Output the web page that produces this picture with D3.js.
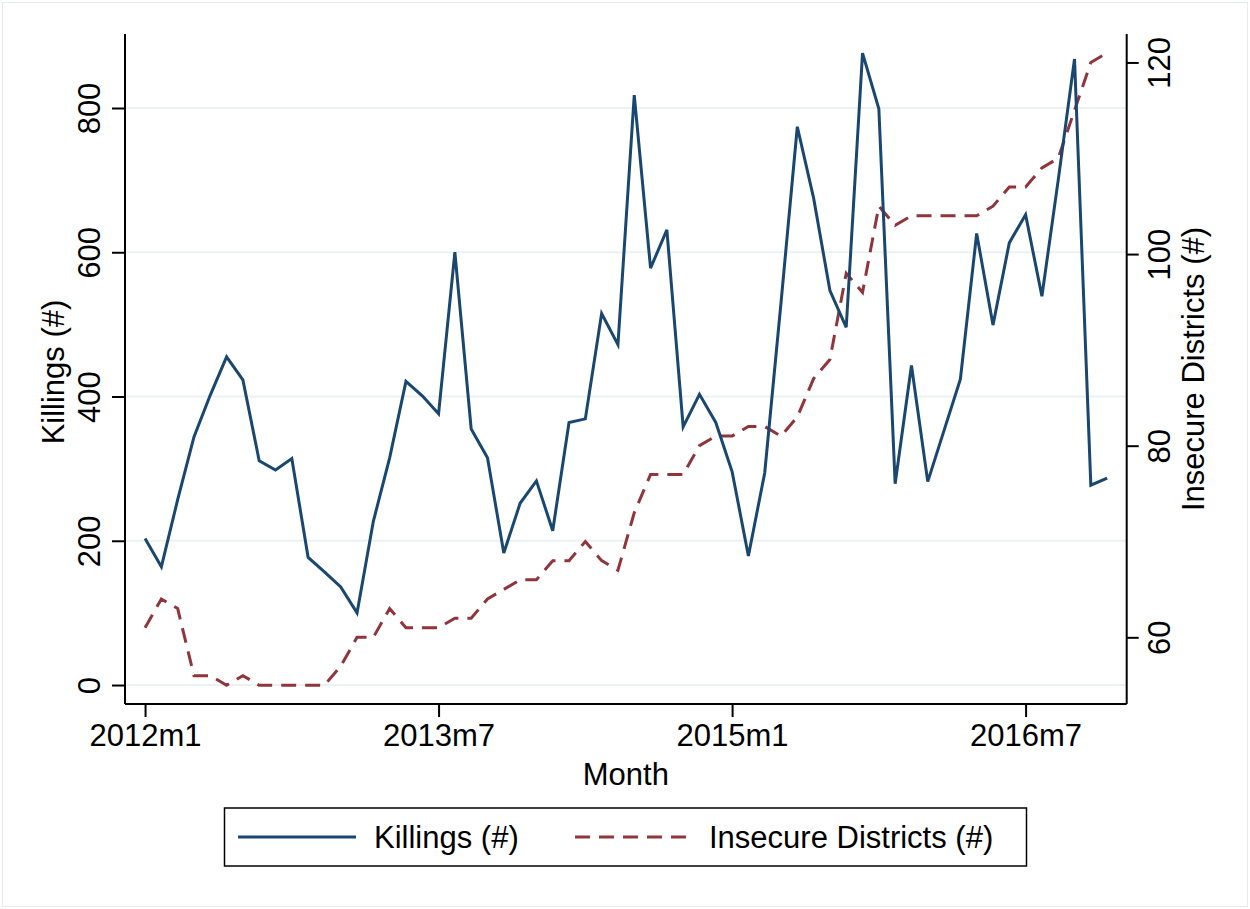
<!DOCTYPE html>
<html>
<head>
<meta charset="utf-8">
<script src="https://cdn.jsdelivr.net/npm/d3@7"></script>
<style>
  html, body { margin: 0; padding: 0; background: #fff; }
  svg { display: block; }
  text { font-family: "Liberation Sans", Arial, Helvetica, sans-serif; fill: #000; }
</style>
</head>
<body>
<svg id="chart" width="1250" height="909"></svg>
<script>
// ---- data (monthly, 2012m1 .. 2016m12) ----
const startYear = 2012;
const killings = [203,164,257,344,402,455,423,311,298,314,
                  177,157,136,100,227,315,421,401,376,600,
                  355,315,183,252,283,214,364,369,515,472,
                  818,578,631,358,403,364,296,179,294,530,
                  774,675,547,496,876,799,279,443,282,353,
                  424,626,499,613,652,539,700,868,277,287];
const insecure = [61,64,63,56,56,55,56,55,55,55,
                  55,55,57,60,60,63,61,61,61,62,
                  62,64,65,66,66,68,68,70,68,67,
                  73,77,77,77,80,81,81,82,82,81,
                  83,87,89,98,96,105,103,104,104,104,
                  104,104,105,107,107,109,110,115,120,121];
const xTicks = [0, 18, 36, 54];
const leftTicks = [0, 200, 400, 600, 800];
const rightTicks = [60, 80, 100, 120];
const seriesNames = ["Killings (#)", "Insecure Districts (#)"];
const xTitle = "Month";
const leftTitle = "Killings (#)";
const rightTitle = "Insecure Districts (#)";

// ---- layout ----
const svg = d3.select("#chart");
const L = 125, R = 1126.7, T = 34, B = 704;
const navy = "#1a476f", maroon = "#90353b", grid = "#eaf2f3";
const FS = 31;

svg.append("rect").attr("x", 2.5).attr("y", 2.5).attr("width", 1245).attr("height", 904)
  .attr("fill", "#fff").attr("stroke", "#e4ecef").attr("stroke-width", 1);

const x = d3.scaleLinear().domain([-1.23, 60.2]).range([L, R]);
const yL = d3.scaleLinear().domain([-26.3, 902.6]).range([B, T]);
const yR = d3.scaleLinear().domain([53.04, 122.97]).range([B, T]);

// gridlines
svg.append("g").selectAll("line").data(leftTicks).join("line")
  .attr("x1", L).attr("x2", R).attr("y1", d => yL(d)).attr("y2", d => yL(d))
  .attr("stroke", grid).attr("stroke-width", 2);

// series
const lineK = d3.line().x((d, i) => x(i)).y(d => yL(d));
const lineI = d3.line().x((d, i) => x(i)).y(d => yR(d));
svg.append("path").datum(insecure).attr("d", lineI).attr("fill", "none")
  .attr("stroke", maroon).attr("stroke-width", 3).attr("stroke-dasharray", "15,9");
svg.append("path").datum(killings).attr("d", lineK).attr("fill", "none")
  .attr("stroke", navy).attr("stroke-width", 3);

// axes
const fmtMonth = i => (startYear + Math.floor(i / 12)) + "m" + (i % 12 + 1);
const axB = svg.append("g").attr("transform", `translate(0,${B})`)
  .call(d3.axisBottom(x).tickValues(xTicks).tickFormat(fmtMonth).tickSize(13).tickPadding(7));
const axL = svg.append("g").attr("transform", `translate(${L},0)`)
  .call(d3.axisLeft(yL).tickValues(leftTicks).tickSize(13).tickPadding(0));
const axR = svg.append("g").attr("transform", `translate(${R},0)`)
  .call(d3.axisRight(yR).tickValues(rightTicks).tickSize(12).tickPadding(0));

[axB, axL, axR].forEach(g => {
  g.select(".domain").attr("stroke", "#000").attr("stroke-width", 2);
  g.selectAll(".tick line").attr("stroke", "#000").attr("stroke-width", 2);
  g.selectAll(".tick text").attr("font-size", FS).attr("font-family", "Liberation Sans, Arial, sans-serif").attr("fill", "#000");
});
axB.select(".domain").attr("d", `M${L},0H${R}`);
axL.select(".domain").attr("d", `M0,${T}V${B}`);
axR.select(".domain").attr("d", `M0,${T}V${B}`);

axB.selectAll(".tick text").attr("dy", "0.71em");
axL.selectAll(".tick text").attr("transform", "rotate(-90)")
  .attr("x", 0).attr("y", -25).attr("dy", 0).attr("text-anchor", "middle");
axR.selectAll(".tick text").attr("transform", "rotate(-90)")
  .attr("x", 0).attr("y", 43).attr("dy", 0).attr("text-anchor", "middle");

// axis titles
svg.append("text").attr("transform", `translate(64,${(T + B) / 2 + 3}) rotate(-90)`)
  .attr("text-anchor", "middle").attr("font-size", FS).text(leftTitle);
svg.append("text").attr("transform", `translate(1204,${(T + B) / 2}) rotate(-90)`)
  .attr("text-anchor", "middle").attr("font-size", FS).text(rightTitle);
svg.append("text").attr("x", (L + R) / 2).attr("y", 785)
  .attr("text-anchor", "middle").attr("font-size", FS).text(xTitle);

// legend
const lg = svg.append("g");
lg.append("rect").attr("x", 224.5).attr("y", 808).attr("width", 802).attr("height", 58)
  .attr("fill", "#fff").attr("stroke", "#000").attr("stroke-width", 1.5);
const legendItems = [
  {name: seriesNames[0], color: navy, dash: null, x1: 238, x2: 356, tx: 374},
  {name: seriesNames[1], color: maroon, dash: "15,9", x1: 575, x2: 691, tx: 709}
];
legendItems.forEach(it => {
  lg.append("line").attr("x1", it.x1).attr("x2", it.x2).attr("y1", 837).attr("y2", 837)
    .attr("stroke", it.color).attr("stroke-width", 3).attr("stroke-dasharray", it.dash);
  lg.append("text").attr("x", it.tx).attr("y", 848).attr("font-size", FS).text(it.name);
});
</script>
</body>
</html>
